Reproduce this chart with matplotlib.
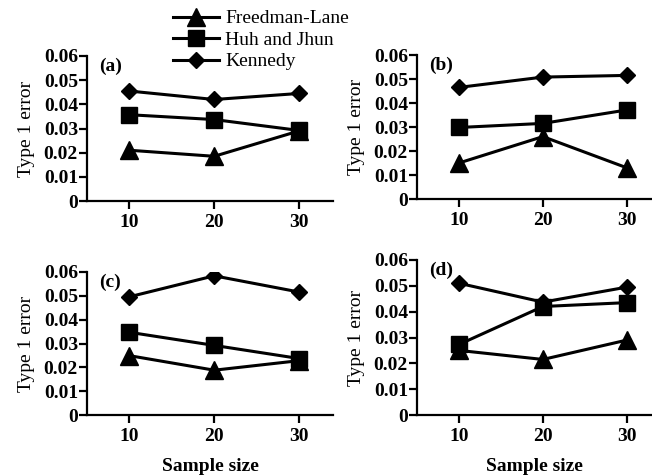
import matplotlib
matplotlib.use('Agg')
import matplotlib.pyplot as plt

plt.rcParams['font.family'] = 'Liberation Serif'

W, H = 652, 476

sample_sizes = [10, 20, 30]
methods = ['Freedman-Lane', 'Huh and Jhun', 'Kennedy']
markers = ['^', 's', 'D']
marker_sizes = [13, 11, 8.5]
panel_labels = ['(a)', '(b)', '(c)', '(d)']

# Type 1 error per panel: [Freedman-Lane, Huh and Jhun, Kennedy]
panel_a = [[0.021, 0.0185, 0.029], [0.0357, 0.0337, 0.0292], [0.0455, 0.042, 0.0445]]
panel_b = [[0.015, 0.026, 0.013], [0.0298, 0.0315, 0.0371], [0.0465, 0.0508, 0.0515]]
panel_c = [[0.0249, 0.0188, 0.0228], [0.0347, 0.0292, 0.0237], [0.0496, 0.0584, 0.0516]]
panel_d = [[0.0250, 0.0215, 0.0290], [0.0273, 0.0420, 0.0435], [0.0510, 0.0437, 0.0495]]
panels = [panel_a, panel_b, panel_c, panel_d]

# axes boxes in pixels: left, top, right, bottom
boxes = [(87, 56, 333, 201), (417, 55, 652, 199),
         (87, 272, 333, 415), (417, 260, 652, 415)]

fig = plt.figure(figsize=(W / 100, H / 100), dpi=100)

axes = []
for i, (panel, box) in enumerate(zip(panels, boxes)):
    l, t, r, b = box
    ax = fig.add_axes([l / W, 1 - b / H, (r - l) / W, (b - t) / H])
    for vals, m, ms, name in zip(panel, markers, marker_sizes, methods):
        ax.plot(sample_sizes, vals, color='black', lw=2.2, marker=m, ms=ms, label=name)
    ax.set_ylim(0, 0.06)
    ax.set_xlim(5, 34 if i % 2 == 0 else 33)
    ax.set_xticks(sample_sizes)
    ax.set_yticks([0, 0.01, 0.02, 0.03, 0.04, 0.05, 0.06])
    ax.set_yticklabels(['0', '0.01', '0.02', '0.03', '0.04', '0.05', '0.06'])
    for s in ['top', 'right']:
        ax.spines[s].set_visible(False)
    for s in ['left', 'bottom']:
        ax.spines[s].set_linewidth(1.6)
    ax.tick_params(width=1.6, length=5.5, labelsize=14)
    ax.tick_params(axis='x', pad=4)
    ax.tick_params(axis='y', pad=1)
    for lab in ax.get_xticklabels() + ax.get_yticklabels():
        lab.set_fontweight('bold')
    ax.set_ylabel('Type 1 error', fontsize=14, labelpad=6)
    ax.text(0.05, 0.99, panel_labels[i], transform=ax.transAxes, fontsize=14,
            fontweight='bold', va='top', ha='left')
    if i >= 2:
        ax.set_xlabel('Sample size', fontsize=14, fontweight='bold', labelpad=9)
    axes.append(ax)

handles, labels = axes[0].get_legend_handles_labels()
fig.legend(handles, labels, loc='upper left', bbox_to_anchor=(165 / W, 1 - 2 / H),
           frameon=False, fontsize=14, handlelength=2.4, labelspacing=0.2,
           handletextpad=0.3, borderaxespad=0)

fig.savefig('out.png', dpi=100)
